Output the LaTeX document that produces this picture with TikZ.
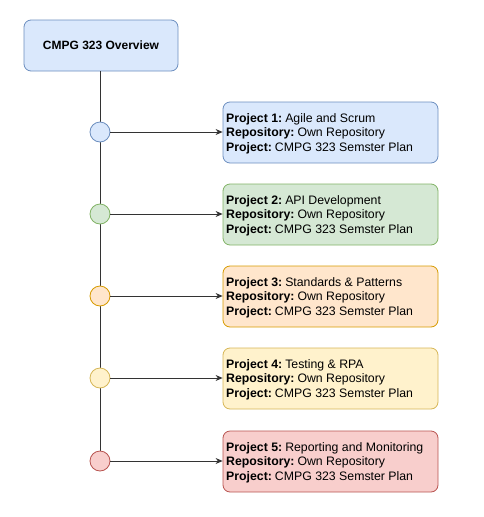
\documentclass[tikz,border=0pt]{standalone}
\usepackage{fontspec}
\setmainfont{Liberation Sans}
\usetikzlibrary{arrows.meta}
\definecolor{bF}{HTML}{DAE8FC}\definecolor{bD}{HTML}{6C8EBF}
\definecolor{gF}{HTML}{D5E8D4}\definecolor{gD}{HTML}{82B366}
\definecolor{oF}{HTML}{FFE6CC}\definecolor{oD}{HTML}{D79B00}
\definecolor{yF}{HTML}{FFF2CC}\definecolor{yD}{HTML}{D6B656}
\definecolor{rF}{HTML}{F8CECC}\definecolor{rD}{HTML}{B85450}
\newcommand{\lbl}[1]{\textbf{#1}\hspace{3pt}}
\begin{document}
\begin{tikzpicture}[x=1pt,y=-1pt,
  projbox/.style={draw, rounded corners=7pt, line width=0.8pt, minimum width=215pt, minimum height=61pt},
  projtext/.style={anchor=west, align=left, inner sep=0pt, font=\fontsize{12.3}{14.5}\selectfont},
  dot/.style={circle, draw, line width=0.8pt, minimum size=20pt, inner sep=0pt},
  link/.style={draw=black!80, line width=0.8pt, -{Stealth[length=7pt,width=6pt]}}]
\useasboundingbox (0,0) rectangle (483,517);
\node[draw=bD, fill=bF, rounded corners=7pt, line width=0.8pt, minimum width=154pt, minimum height=51pt,
  font=\bfseries\fontsize{12}{15}\selectfont] (top) at (101,45.5) {CMPG 323 Overview};
\coordinate (c5n) at (100,451);
\draw[black!80, line width=0.8pt] (top.south -| 100,0) -- (c5n);
\foreach \i/\y/\f/\d/\t in {1/132/bF/bD/Agile and Scrum, 2/214/gF/gD/API Development,
  3/296/oF/oD/Standards \& Patterns, 4/378/yF/yD/Testing \& RPA, 5/461/rF/rD/Reporting and Monitoring}{
  \node[dot, draw=\d, fill=\f] (c\i) at (100,\y) {};
  \node[projbox, draw=\d, fill=\f] (p\i) at (330.5,\y+0.5) {};
  \node[projtext] (t\i) at (226,\y+1.5)
    {\lbl{Project \i:}\t\\ \lbl{Repository:}Own Repository\\ \lbl{Project:}CMPG 323 Semster Plan};
  \draw[link] (c\i.east) -- (p\i.west |- c\i.east);
}
\end{tikzpicture}
\end{document}
